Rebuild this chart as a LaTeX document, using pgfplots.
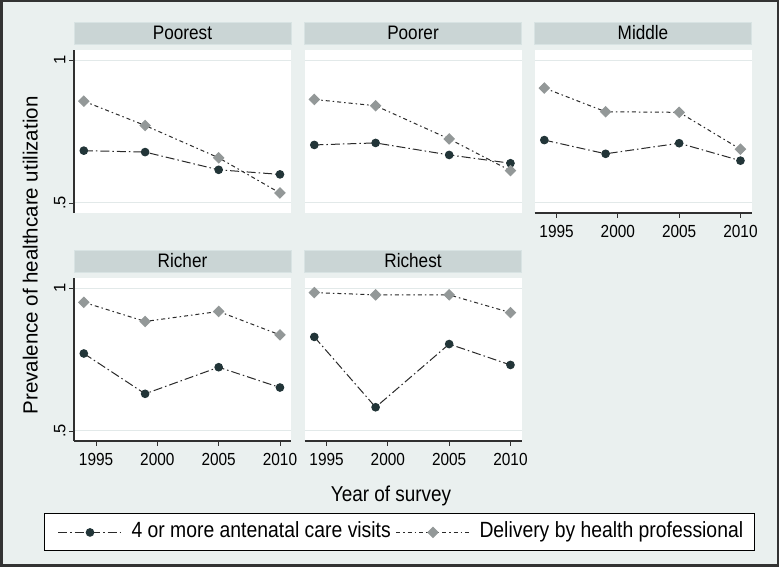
\documentclass[border=0pt]{standalone}
\usepackage{pgfplots}
\pgfplotsset{compat=1.18}
\usepackage{fontspec}
\setmainfont{Liberation Sans}[FakeStretch=0.88]
\newfontfamily\rotfont{Liberation Sans}
\definecolor{bgcol}{HTML}{EAF0EF}
\definecolor{stripcol}{HTML}{CAD5D5}
\definecolor{stripedge}{HTML}{D8E3E3}
\definecolor{gridcol}{HTML}{E2E9E9}
\definecolor{darkser}{HTML}{223538}
\definecolor{greyser}{HTML}{939898}
\definecolor{linecol}{HTML}{2A2A2A}
\definecolor{axcol}{HTML}{303030}

\pgfplotsset{
  panel/.style={
    width=217pt, height=163pt, scale only axis,
    xmin=1993.2, xmax=2010.9, ymin=0.465, ymax=1.035,
    xtick={1995,2000,2005,2010}, xticklabels={1995,2000,2005,2010},
    ytick={0.5,1}, yticklabels={.5,1},
    ymajorgrids, grid style={draw=gridcol, line width=1pt},
    axis background/.style={fill=white},
    axis x line*=bottom, axis y line*=left,
    axis line style={-, draw=axcol, line width=1.1pt},
    tick align=outside, major tick length=5pt,
    tick style={draw=axcol, line width=0.9pt},
    /pgf/number format/assume math mode=true,
    xticklabel style={font=\fontsize{17.5}{20}\selectfont, text=black, yshift=-3.5pt},
    yticklabel style={rotate=90, anchor=south, font=\rotfont\fontsize{16.5}{20}\selectfont, text=black},
    title style={at={(0.5,1)}, anchor=south, yshift=0pt, fill=stripcol, draw=stripedge,
      minimum width=217pt, minimum height=22pt, inner sep=0pt,
      font=\fontsize{19.5}{21}\selectfont},
    clip=false,
  },
  noy/.style={yticklabels={}, y axis line style={draw=none}, ytick style={draw=none}},
  nox/.style={xticklabels={}, x axis line style={draw=none}, xtick style={draw=none}},
  serA/.style={color=linecol, line width=1pt, dash pattern=on 9pt off 3pt on 1.5pt off 3pt,
    mark=*, mark size=3.8pt, mark options={solid, fill=darkser, draw=darkser}},
  serB/.style={color=linecol, line width=1pt, dash pattern=on 4pt off 3pt on 1.5pt off 3pt,
    mark=square*, mark size=3.6pt, mark options={solid, rotate=45, fill=greyser, draw=greyser}},
  legA/.style={legend image code/.code={\draw[##1, mark repeat=2, mark phase=2] plot coordinates {(0pt,0pt) (32pt,0pt) (64pt,0pt)};}},
  legB/.style={legend image code/.code={\draw[##1, mark repeat=2, mark phase=2] plot coordinates {(0pt,0pt) (37pt,0pt) (74pt,0pt)};}},
}

\begin{document}
\begin{tikzpicture}[x=1pt,y=1pt]
\path[use as bounding box, fill=bgcol] (0,0) rectangle (779,567);
\draw[line width=2.5pt, draw=black!80] (1.25,1.25) rectangle (777.75,565.75);

% Poorest
\begin{axis}[panel, nox, at={(74pt,354pt)}, anchor=south west, title={Poorest}]
\addplot[serA] coordinates {(1994,0.683) (1999,0.678) (2005,0.616) (2010,0.600)};
\addplot[serB] coordinates {(1994,0.856) (1999,0.771) (2005,0.658) (2010,0.535)};
\end{axis}

% Poorer
\begin{axis}[panel, nox, noy, at={(304.5pt,354pt)}, anchor=south west, title={Poorer}]
\addplot[serA] coordinates {(1994,0.703) (1999,0.710) (2005,0.668) (2010,0.639)};
\addplot[serB] coordinates {(1994,0.862) (1999,0.840) (2005,0.724) (2010,0.613)};
\end{axis}

% Middle
\begin{axis}[panel, noy, at={(534.5pt,354pt)}, anchor=south west, title={Middle}]
\addplot[serA] coordinates {(1994,0.720) (1999,0.672) (2005,0.709) (2010,0.648)};
\addplot[serB] coordinates {(1994,0.902) (1999,0.819) (2005,0.817) (2010,0.688)};
\end{axis}

% Richer
\begin{axis}[panel, at={(74pt,126pt)}, anchor=south west, title={Richer}]
\addplot[serA] coordinates {(1994,0.771) (1999,0.630) (2005,0.723) (2010,0.652)};
\addplot[serB] coordinates {(1994,0.950) (1999,0.883) (2005,0.918) (2010,0.836)};
\end{axis}

% Richest
\begin{axis}[panel, noy, at={(304.5pt,126pt)}, anchor=south west, title={Richest},
  legend columns=2,
  legend style={at={(0.4378,-0.561)}, anchor=center, draw=black, line width=1pt, fill=white,
    inner xsep=13pt, inner ysep=8pt, column sep=0pt,
    nodes={inner sep=0pt, text height=16pt, text depth=5pt, font=\fontsize{22}{24}\selectfont}},
  legend cell align=left]
\addplot[serA, legA] coordinates {(1994,0.829) (1999,0.583) (2005,0.804) (2010,0.731)};
\addlegendentry{\makebox[273pt][l]{\hspace{9pt}4 or more antenatal care visits}}
\addplot[serB, legB] coordinates {(1994,0.984) (1999,0.976) (2005,0.976) (2010,0.914)};
\addlegendentry{\makebox[271pt][l]{\hspace{9pt}Delivery by health professional}}
\end{axis}

\node[rotate=90, anchor=base, font=\rotfont\fontsize{20.5}{22}\selectfont] at (37.5,311.5) {Prevalence of healthcare utilization};
\node[anchor=base, font=\fontsize{21.5}{24}\selectfont] at (391,65) {Year of survey};
\end{tikzpicture}
\end{document}
